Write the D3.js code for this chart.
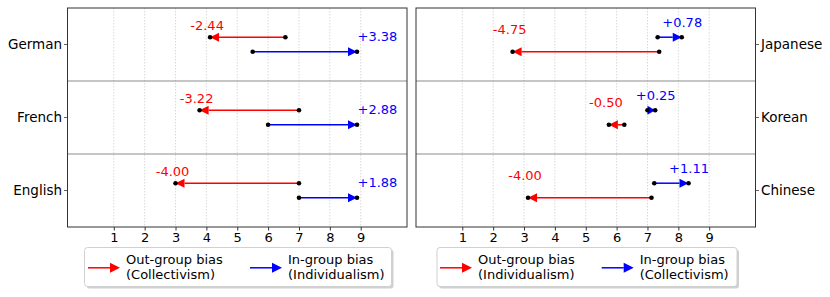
<!DOCTYPE html>
<html>
<head>
<meta charset="utf-8">
<script src="https://cdn.jsdelivr.net/npm/d3@7"></script>
<style>
  body { margin: 0; background: #fff; }
  svg { font-family: "DejaVu Sans", sans-serif; }
</style>
</head>
<body>
<script>
(function(){

    //chart data
    var leftLangs = ["German", "French", "English"];
    var leftOutStart = [6.56, 7.00, 7.00];
    var leftOutBias = [-2.44, -3.22, -4.00];
    var leftInStart = [5.50, 6.00, 7.00];
    var leftInBias = [3.38, 2.88, 1.88];

    var rightLangs = ["Japanese", "Korean", "Chinese"];
    var rightOutStart = [7.38, 6.25, 7.13];
    var rightOutBias = [-4.75, -0.50, -4.00];
    var rightInStart = [7.33, 7.00, 7.22];
    var rightInBias = [0.78, 0.25, 1.11];

    var xTicks = [1, 2, 3, 4, 5, 6, 7, 8, 9];
    var leftLegend = [["Out-group bias", "(Collectivism)"], ["In-group bias", "(Individualism)"]];
    var rightLegend = [["Out-group bias", "(Individualism)"], ["In-group bias", "(Collectivism)"]];

    var width = 830, height = 297;
    var top = 8, bottom = 227;

    //format with a plain hyphen for negatives
    var fmt = d3.formatLocale({decimal: ".", thousands: ",", grouping: [3], currency: ["", ""], minus: "-"});
    var fmtOut = fmt.format(".2f"),
        fmtIn = fmt.format("+.2f");

    var svg = d3.select("body")
        .append("svg")
        .attr("width", width)
        .attr("height", height);

    //draw an arrow with a filled head at (x2,y)
    function arrow(g, x1, x2, y, color, headLen, halfW){
        var dir = x2 > x1 ? 1 : -1;
        var len = Math.abs(x2 - x1);
        var hl = Math.min(headLen, len);
        var xb = x2 - dir * hl;
        g.append("line")
            .attr("x1", x1).attr("x2", xb)
            .attr("y1", y).attr("y2", y)
            .attr("stroke", color)
            .attr("stroke-width", 1.5);
        g.append("path")
            .attr("d", "M" + x2 + "," + y + "L" + xb + "," + (y - halfW) + "L" + xb + "," + (y + halfW) + "Z")
            .attr("fill", color);
    }

    function setPanel(opts){
        var x = d3.scaleLinear()
            .domain([-0.5, 10.5])
            .range([opts.left, opts.right]);

        var y = d3.scaleBand()
            .domain(opts.langs)
            .range([top, bottom]);

        var g = svg.append("g");

        //grid lines
        g.selectAll(".grid")
            .data(xTicks)
            .enter()
            .append("line")
            .attr("x1", function(d){ return x(d); })
            .attr("x2", function(d){ return x(d); })
            .attr("y1", top)
            .attr("y2", bottom)
            .attr("stroke", "#cfcfcf")
            .attr("stroke-width", 0.8)
            .attr("stroke-dasharray", "1.5,1.5");

        //row separators
        g.selectAll(".sep")
            .data(opts.langs.slice(1))
            .enter()
            .append("line")
            .attr("x1", opts.left)
            .attr("x2", opts.right)
            .attr("y1", function(d){ return y(d); })
            .attr("y2", function(d){ return y(d); })
            .attr("stroke", "#8c8c8c")
            .attr("stroke-width", 1.2);

        //x axis
        var xAxis = d3.axisBottom(x)
            .tickValues(xTicks)
            .tickSize(3.5)
            .tickPadding(2)
            .tickFormat(d3.format("d"));
        var ax = g.append("g")
            .attr("transform", "translate(0," + bottom + ")")
            .call(xAxis);
        ax.select(".domain").remove();
        ax.selectAll("line").attr("stroke", "#333");
        ax.selectAll("text")
            .attr("fill", "#000")
            .style("font-size", "13px")
            .style("font-family", "DejaVu Sans");

        //y axis
        var yAxis = (opts.side == "left" ? d3.axisLeft(y) : d3.axisRight(y))
            .tickSize(3.5)
            .tickPadding(2);
        var ay = g.append("g")
            .attr("transform", "translate(" + (opts.side == "left" ? opts.left : opts.right) + ",0)")
            .call(yAxis);
        ay.select(".domain").remove();
        ay.selectAll("line").attr("stroke", "#666");
        ay.selectAll("text")
            .attr("fill", "#000")
            .style("font-size", "13.5px")
            .style("font-family", "DejaVu Sans");

        //arrows
        opts.langs.forEach(function(lang, i){
            var cy = y(lang) + y.bandwidth() / 2;
            var outY = opts.outFirst ? cy - 7.3 : cy + 7.3;
            var inY = opts.outFirst ? cy + 7.3 : cy - 7.3;

            var oS = x(opts.outStart[i]),
                oE = x(opts.outStart[i] + opts.outBias[i]),
                iS = x(opts.inStart[i]),
                iE = x(opts.inStart[i] + opts.inBias[i]);

            arrow(g, oS, oE, outY, "red", 9, 4.5);
            arrow(g, iS, iE, inY, "blue", 9, 4.5);

            [[oS, outY], [oE, outY], [iS, inY], [iE, inY]].forEach(function(p){
                g.append("circle")
                    .attr("cx", p[0])
                    .attr("cy", p[1])
                    .attr("r", 2.3)
                    .attr("fill", "#000");
            });

            //value labels
            var upperY = Math.min(outY, inY);
            g.append("text")
                .attr("x", oE - 3)
                .attr("y", opts.outFirst ? outY - 7.5 : upperY - 3.3)
                .attr("text-anchor", "middle")
                .attr("fill", "red")
                .style("font-size", "13px")
                .text(fmtOut(opts.outBias[i]));
            g.append("text")
                .attr("x", iE + 0.5)
                .attr("y", opts.outFirst ? upperY + 4 : inY - 10)
                .attr("text-anchor", opts.outFirst ? "start" : "middle")
                .attr("fill", "blue")
                .style("font-size", "13px")
                .text(fmtIn(opts.inBias[i]));
        });

        //frame
        g.append("rect")
            .attr("x", opts.left)
            .attr("y", top)
            .attr("width", opts.right - opts.left)
            .attr("height", bottom - top)
            .attr("fill", "none")
            .attr("stroke", "#333")
            .attr("stroke-width", 1);

        //legend
        var lg = svg.append("g")
            .attr("transform", "translate(" + opts.legX + ",247.5)");
        lg.append("rect")
            .attr("x", 2).attr("y", 2)
            .attr("width", opts.legW).attr("height", 39)
            .attr("rx", 3)
            .attr("fill", "#b0b0b0")
            .attr("opacity", 0.6);
        lg.append("rect")
            .attr("width", opts.legW).attr("height", 39)
            .attr("rx", 3)
            .attr("fill", "#fff")
            .attr("stroke", "#d0d0d0")
            .attr("stroke-width", 1);

        var colors = ["red", "blue"];
        opts.legend.forEach(function(lines, k){
            var ex = opts.legItems[k];
            arrow(lg, ex, ex + 32, 20.3, colors[k], 10, 5);
            lines.forEach(function(t, j){
                lg.append("text")
                    .attr("x", ex + 38)
                    .attr("y", 16.5 + j * 15.3)
                    .attr("fill", "#000")
                    .style("font-size", "13px")
                    .text(t);
            });
        });
    }

    setPanel({
        side: "left", left: 67.5, right: 407,
        langs: leftLangs, outStart: leftOutStart, outBias: leftOutBias,
        inStart: leftInStart, inBias: leftInBias, outFirst: true,
        legX: 84.5, legW: 307, legend: leftLegend, legItems: [3.5, 165.5]
    });

    setPanel({
        side: "right", left: 416, right: 755.5,
        langs: rightLangs, outStart: rightOutStart, outBias: rightOutBias,
        inStart: rightInStart, inBias: rightInBias, outFirst: false,
        legX: 437, legW: 300, legend: rightLegend, legItems: [3, 164.7]
    });

})();
</script>
</body>
</html>
